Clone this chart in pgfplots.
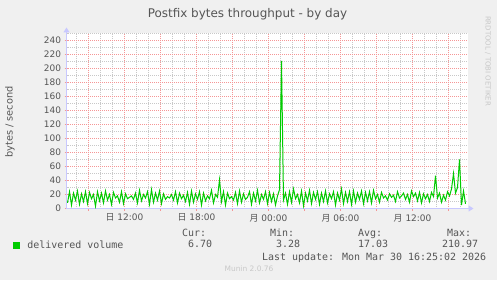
\documentclass[border=0pt]{standalone}
\usepackage{pgfplots}
\pgfplotsset{compat=1.18}
\usepackage{pgfplotstable}
\usepackage{fontspec}
\setmainfont{DejaVu Sans}
\newfontfamily\monofont{DejaVu Sans Mono}
\newfontfamily\cjk{Noto Sans CJK JP}
\usetikzlibrary{arrows.meta}
\definecolor{bg}{HTML}{F0F0F0}
\definecolor{txt}{HTML}{555555}
\definecolor{redgrid}{RGB}{245,150,150}
\definecolor{graygrid}{RGB}{200,200,200}
\definecolor{axiscol}{HTML}{C8C8FF}
\definecolor{linegreen}{HTML}{00CC00}
\definecolor{faint}{HTML}{C8C8C8}

\pgfplotstableread{
x y
435 8
445 24
455 5
465 22
475 12
485 25
495 6
505 21
515 10
525 24
535 7
545 23
555 14
565 20
575 3.28
585 24
595 11
605 22
615 8
625 25
635 12
645 20
655 6
665 23
675 15
685 18
695 9
705 24
715 7
725 21
735 14
745 16
755 18
765 13
775 22
785 8
795 26
805 11
815 20
825 15
835 24
845 6
855 27
865 9
875 22
885 12
895 25
905 7
915 21
925 13
935 17
945 15
955 20
965 12
975 24
985 8
995 22
1005 14
1015 19
1025 10
1035 23
1045 6
1055 25
1065 9
1075 21
1085 13
1095 24
1105 5
1115 22
1125 11
1135 18
1145 14
1155 26
1165 8
1175 20
1185 16
1195 41
1205 10
1215 24
1225 5
1235 22
1245 14
1255 17
1265 12
1275 23
1285 7
1295 25
1305 9
1315 21
1325 13
1335 16
1345 24
1355 6
1365 22
1375 11
1385 26
1395 8
1405 20
1415 13
1425 24
1435 7
1445 23
1455 10
1465 21
1475 5
1485 18
1495 27
1505 210.97
1515 12
1525 22
1535 6
1545 24
1555 9
1565 28
1575 14
1585 20
1595 8
1605 25
1615 4
1625 22
1635 11
1645 26
1655 7
1665 23
1675 13
1685 24
1695 6
1705 22
1715 10
1725 25
1735 8
1745 21
1755 14
1765 24
1775 5
1785 22
1795 12
1805 28
1815 7
1825 23
1835 10
1845 24
1855 6
1865 25
1875 9
1885 22
1895 13
1905 25
1915 7
1925 23
1935 11
1945 24
1955 8
1965 26
1975 14
1985 20
1995 9
2005 23
2015 15
2025 18
2035 12
2045 21
2055 16
2065 19
2075 10
2085 24
2095 15
2105 18
2115 22
2125 13
2135 20
2145 9
2155 25
2165 17
2175 22
2185 11
2195 23
2205 8
2215 21
2225 14
2235 20
2245 10
2255 23
2265 17
2275 47
2285 15
2295 22
2305 9
2315 19
2325 12
2335 24
2345 18
2355 28
2365 50
2375 22
2385 30
2395 70
2405 5
2415 25
2425 6.70
}\datatable

\begin{document}
\begin{tikzpicture}[x=1bp,y=1bp]
\fill[bg] (0,0) rectangle (497,280);
\useasboundingbox (0,0) rectangle (497,280);
\begin{axis}[
  at={(66.5bp,71.5bp)}, anchor=south west,
  scale only axis, width=401bp, height=175bp,
  xmin=430, xmax=2435, ymin=0, ymax=250,
  axis background/.style={fill=white},
  axis x line=bottom, axis y line=left,
  axis line style={draw=axiscol, line width=1bp},
  x axis line style={-{Triangle[length=5bp,width=6bp]}, shorten >=-6bp},
  y axis line style={-{Triangle[length=5bp,width=6bp]}, shorten >=-6bp},
  xtick={540,720,...,2340},
  xticklabels={,{\cjk 日} 12:00,,{\cjk 日} 18:00,,{\cjk 月} 00:00,,{\cjk 月} 06:00,,{\cjk 月} 12:00,},
  minor xtick={480,600,660,780,840,960,1020,1140,1200,1320,1380,1500,1560,1680,1740,1860,1920,2040,2100,2220,2280,2400},
  ytick={0,20,...,240},
  minor ytick={10,30,...,250},
  xmajorgrids, ymajorgrids, xminorgrids, yminorgrids,
  major grid style={color=redgrid, dash pattern=on 1bp off 1bp, dash phase=0.5bp, line width=1bp},
  minor grid style={color=graygrid, dash pattern=on 1bp off 1bp, dash phase=0.5bp, line width=1bp},
  tick align=outside, major tick length=2bp, minor tick length=0bp,
  major tick style={color=redgrid, line width=1bp},
  ticklabel style={font=\fontsize{9}{10}\selectfont, text=txt},
  /pgf/number format/assume math mode=true,
  legend style={at={(-0.13217,-0.21143)}, anchor=west, draw=none, fill=none,
    inner sep=0pt, outer sep=0pt, font=\monofont\fontsize{10}{12}\selectfont, text=txt,
    nodes={inner sep=0pt}, column sep=7bp},
  legend image code/.code={\fill[linegreen] (0bp,-3bp) rectangle (6bp,3bp);},
]
\addplot[linegreen, line width=1bp, mark=none] table[x=x,y=y] {\datatable};
\addlegendentry{delivered volume}
\end{axis}
\node[anchor=base, font=\fontsize{12}{14}\selectfont, text=txt] at (247.5,262.7) {Postfix bytes throughput - by day};
\node[rotate=90, anchor=center, font=\fontsize{9.8}{11}\selectfont, text=txt] at (10,158) {bytes / second};
\node[rotate=-90, anchor=center, font=\fontsize{7}{8}\selectfont, text=faint] at (488,219) {RRDTOOL / TOBI OETIKER};
\begin{scope}[every node/.style={anchor=base west, inner sep=0pt, font=\monofont\fontsize{10}{12}\selectfont, text=txt}]
\node at (182,44) {Cur:};
\node at (270,44) {Min:};
\node at (358,44) {Avg:};
\node at (447,44) {Max:};
\node at (188,32.3) {6.70};
\node at (276,32.3) {3.28};
\node at (358,32.3) {17.03};
\node at (442,32.3) {210.97};
\node at (262,19.5) {Last update: Mon Mar 30 16:25:02 2026};
\end{scope}
\node[anchor=center, font=\fontsize{7.5}{8}\selectfont, text=faint] at (249,11) {Munin 2.0.76};
\end{tikzpicture}
\end{document}
